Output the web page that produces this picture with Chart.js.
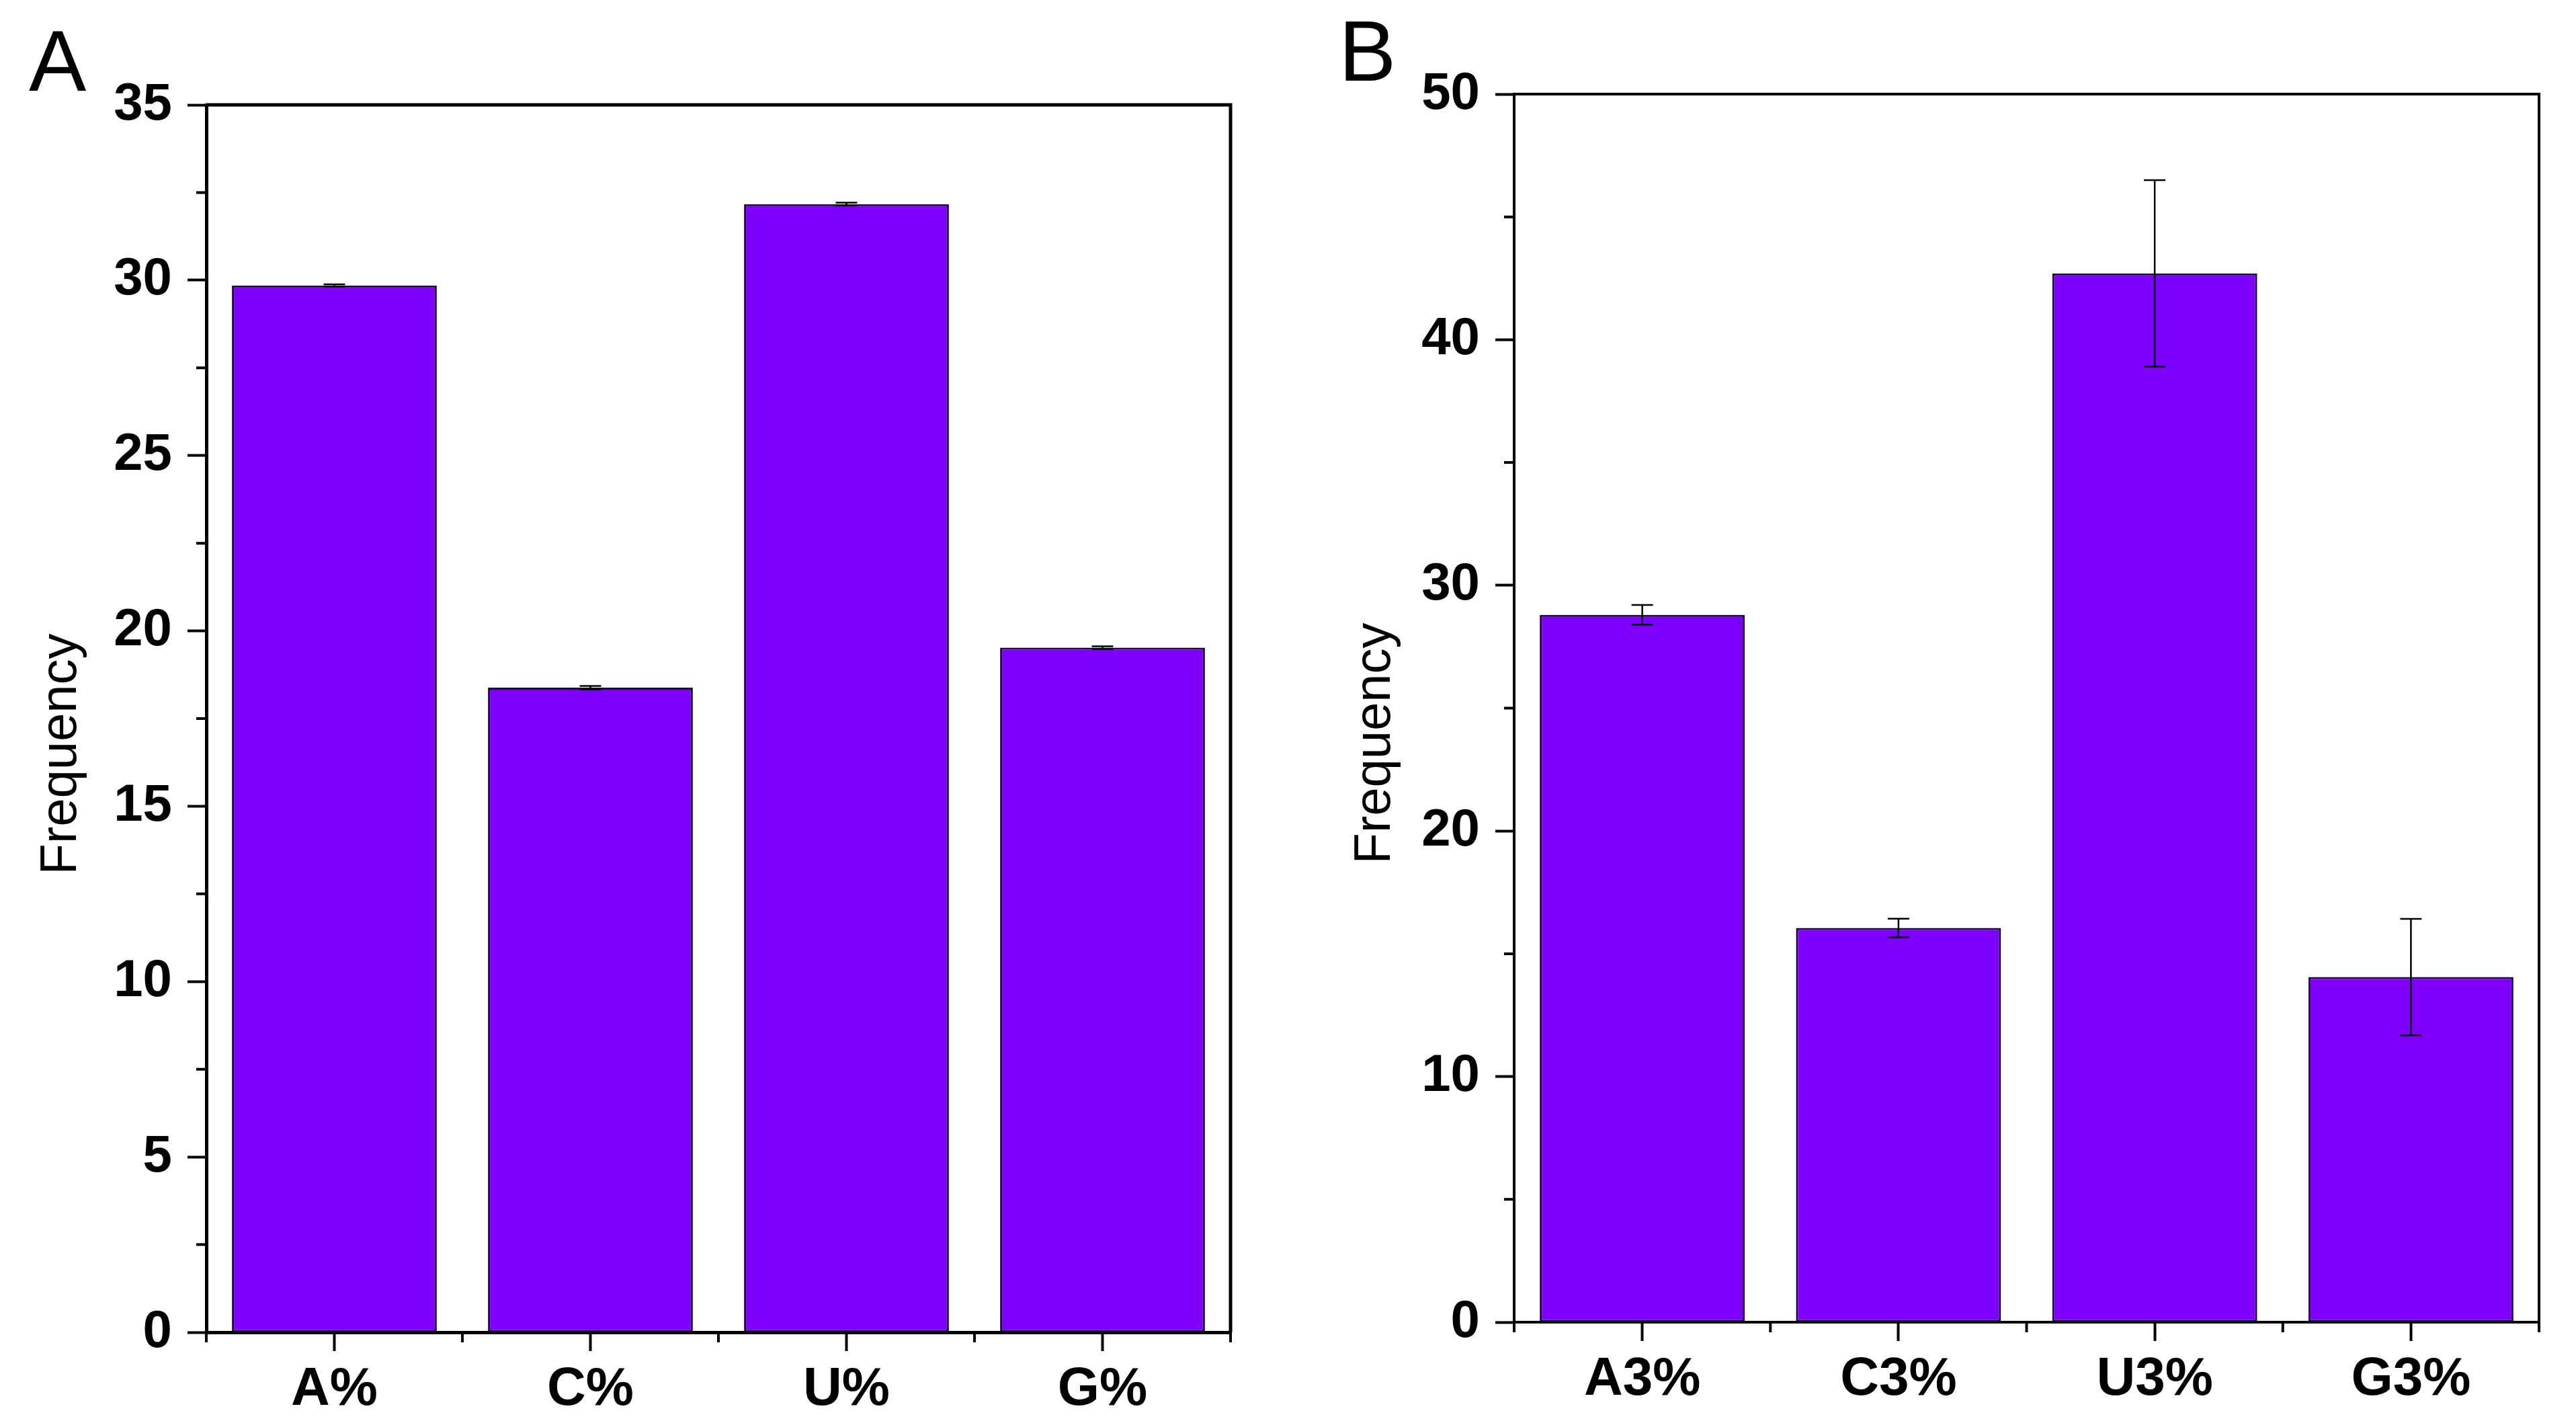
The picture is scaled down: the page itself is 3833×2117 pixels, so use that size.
<!DOCTYPE html>
<html>
<head>
<meta charset="utf-8">
<script src="https://cdn.jsdelivr.net/npm/chart.js@4.4.1/dist/chart.umd.min.js"></script>
<style>
  body { margin: 0; background: #fff; }
  #wrap { position: relative; width: 3833px; height: 2117px; overflow: hidden; }
  canvas { position: absolute; top: 0; }
  .panel { position: absolute; font-family: "Liberation Sans", Arial, sans-serif; font-size: 128px; line-height: 128px; color: #000; }
</style>
</head>
<body>
<div id="wrap">
  <canvas id="chartA" width="1900" height="2117" style="left:0"></canvas>
  <canvas id="chartB" width="1933" height="2117" style="left:1900px"></canvas>
  <div class="panel" style="left:43px; top:27px">A</div>
  <div class="panel" style="left:1992px; top:12px">B</div>
</div>
<script>
// 데이터 (A: 전체 염기 빈도, B: 3번 위치 염기 빈도)
const labelsA = ['A%', 'C%', 'U%', 'G%'];
const valuesA = [29.85, 18.38, 32.17, 19.52];
const errorsA = [0.03, 0.05, 0.04, 0.04];

const labelsB = ['A3%', 'C3%', 'U3%', 'G3%'];
const valuesB = [28.8, 16.05, 42.7, 14.05];
const errorsB = [0.4, 0.38, 3.8, 2.37];

const ticksA = { max: 35, step: 2.5, major: 5 };
const ticksB = { max: 50, step: 5, major: 10 };

const yTitle = 'Frequency';
const barColor = '#7F00FF';
const barEdge = '#1E0040';
const fontName = '"Liberation Sans", Arial, sans-serif';

// 오차 막대, 테두리, 보조 눈금, 축 제목을 그리는 플러그인
const extras = {
  id: 'extras',
  afterDatasetsDraw(chart, args, opts) {
    const ctx = chart.ctx;
    const x = chart.scales.x, y = chart.scales.y;
    const vals = chart.data.datasets[0].data;
    ctx.save();
    ctx.strokeStyle = '#000';
    ctx.lineWidth = 2.5;
    vals.forEach((v, i) => {
      const e = opts.errors[i];
      const px = x.getPixelForValue(i);
      const t = y.getPixelForValue(v + e), b = y.getPixelForValue(v - e);
      ctx.beginPath();
      ctx.moveTo(px, t); ctx.lineTo(px, b);
      ctx.moveTo(px - 16, t); ctx.lineTo(px + 16, t);
      ctx.moveTo(px - 16, b); ctx.lineTo(px + 16, b);
      ctx.stroke();
    });
    ctx.restore();
  },
  afterDraw(chart, args, opts) {
    const ctx = chart.ctx;
    const a = chart.chartArea;
    const x = chart.scales.x, y = chart.scales.y;
    ctx.save();
    ctx.strokeStyle = '#000';
    ctx.lineWidth = opts.lw;
    ctx.beginPath();
    ctx.moveTo(a.left, a.top); ctx.lineTo(a.right, a.top); ctx.lineTo(a.right, a.bottom);
    ctx.stroke();
    // 보조 눈금
    ctx.lineWidth = 4;
    ctx.beginPath();
    y.ticks.forEach(t => {
      if (t.value % opts.major !== 0) {
        const py = y.getPixelForValue(t.value);
        ctx.moveTo(a.left, py); ctx.lineTo(a.left - 15, py);
      }
    });
    for (let i = 0; i <= chart.data.labels.length; i++) {
      const px = x.getPixelForValue(i - 0.5);
      ctx.moveTo(px, a.bottom); ctx.lineTo(px, a.bottom + 15);
    }
    ctx.stroke();
    // y축 제목
    ctx.translate(opts.titleX, opts.titleY);
    ctx.rotate(-Math.PI / 2);
    ctx.fillStyle = '#000';
    ctx.font = '76px ' + fontName;
    ctx.textAlign = 'center';
    ctx.textBaseline = 'middle';
    ctx.fillText(yTitle, 0, 0);
    ctx.restore();
  }
};

function makeChart(id, labels, values, errors, tk, box) {
  return new Chart(document.getElementById(id), {
    type: 'bar',
    data: {
      labels: labels,
      datasets: [{
        data: values,
        backgroundColor: barColor,
        borderColor: barEdge,
        borderWidth: 3,
        borderSkipped: false,
        barPercentage: 0.8,
        categoryPercentage: 1.0
      }]
    },
    plugins: [extras],
    options: {
      responsive: false,
      animation: false,
      devicePixelRatio: 1,
      layout: { padding: { top: box.top, right: box.right, left: 0, bottom: 0 } },
      plugins: {
        legend: { display: false },
        tooltip: { enabled: false },
        extras: { errors: errors, major: tk.major, lw: box.lw, titleX: box.tx, titleY: box.ty }
      },
      scales: {
        x: {
          afterFit: s => { s.height = box.xh; },
          grid: { offset: false, drawOnChartArea: false, tickLength: 28, tickWidth: 4, tickColor: '#000' },
          border: { color: '#000', width: box.lw },
          ticks: { color: '#000', padding: 10, font: { family: fontName, size: 80, weight: 'bold' } }
        },
        y: {
          min: 0, max: tk.max,
          afterFit: s => { s.width = box.yw; },
          grid: {
            drawOnChartArea: false, tickLength: 28, tickWidth: 4,
            tickColor: c => (c.tick.value % tk.major === 0 ? '#000' : 'rgba(0,0,0,0)')
          },
          border: { color: '#000', width: box.lw },
          ticks: {
            stepSize: tk.step, color: '#000', padding: 23,
            font: { family: fontName, size: 78, weight: 'bold' },
            callback: v => (v % tk.major === 0 ? v : '')
          }
        }
      }
    }
  });
}

makeChart('chartA', labelsA, valuesA, errorsA, ticksA, { top: 156, right: 69, xh: 135, yw: 307, lw: 5, tx: 92, ty: 1122 });
makeChart('chartB', labelsB, valuesB, errorsB, ticksB, { top: 140, right: 55, xh: 150, yw: 353, lw: 4, tx: 147, ty: 1106 });
</script>
</body>
</html>
